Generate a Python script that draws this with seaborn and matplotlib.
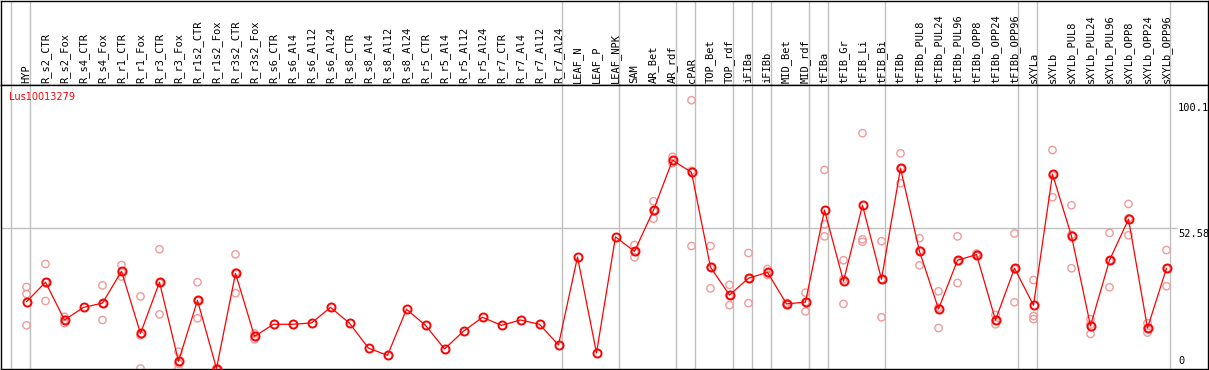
"""
Expression profile of Lus10013279 across tissues / treatments.
"""
import matplotlib
matplotlib.use("Agg")
import matplotlib.pyplot as plt
import numpy as np
import pandas as pd
import seaborn as sns

GENE = "Lus10013279"

samples = [
    "HYP",
    "R_s2_CTR", "R_s2_Fox", "R_s4_CTR", "R_s4_Fox", "R_r1_CTR", "R_r1_Fox",
    "R_r3_CTR", "R_r3_Fox", "R_r1s2_CTR", "R_r1s2_Fox", "R_r3s2_CTR", "R_r3s2_Fox",
    "R_s6_CTR", "R_s6_Al4", "R_s6_Al12", "R_s6_Al24",
    "R_s8_CTR", "R_s8_Al4", "R_s8_Al12", "R_s8_Al24",
    "R_r5_CTR", "R_r5_Al4", "R_r5_Al12", "R_r5_Al24",
    "R_r7_CTR", "R_r7_Al4", "R_r7_Al12", "R_r7_Al24",
    "LEAF_N", "LEAF_P", "LEAF_NPK",
    "SAM", "AR_Bet", "AR_rdf",
    "cPAR",
    "TOP_Bet", "TOP_rdf",
    "iFIBa",
    "iFIBb",
    "MID_Bet", "MID_rdf",
    "tFIBa",
    "tFIB_Gr", "tFIB_Li", "tFIB_Bi",
    "tFIBb", "tFIBb_PUL8", "tFIBb_PUL24", "tFIBb_PUL96",
    "tFIBb_OPP8", "tFIBb_OPP24", "tFIBb_OPP96",
    "sXYLa",
    "sXYLb", "sXYLb_PUL8", "sXYLb_PUL24", "sXYLb_PUL96",
    "sXYLb_OPP8", "sXYLb_OPP24", "sXYLb_OPP96",
]

# number of samples in each separated block
group_sizes = [1, 28, 3, 3, 1, 2, 1, 1, 2, 1, 3, 7, 1, 7]

mean_expr = [
    24.9, 32.2, 18.1, 22.8, 24.4, 36.3, 13.1, 32.2, 2.7, 25.4, 0.0, 35.5, 12.0,
    16.5, 16.5, 17.0, 22.8, 16.9, 7.6, 4.9, 22.1, 16.1, 7.3, 13.9, 19.1,
    16.1, 18.1, 16.5, 8.8,
    41.6, 5.8, 49.1,
    43.7, 59.1, 77.7,
    73.2,
    37.8, 27.4,
    33.7,
    35.9,
    24.1, 24.8,
    59.1,
    32.6, 60.9, 33.3,
    74.7, 43.7, 22.2, 40.4, 42.5, 18.1, 37.4,
    23.6,
    72.5, 49.4, 15.9, 40.4, 55.7, 15.1, 37.4,
]

replicates = [
    [30.4, 27.8, 16.1], [39.0, 32.2, 25.2], [19.3, 18.1, 16.9], [],
    [31.0, 24.1, 18.1], [38.6, 36.0, 34.3], [26.9, 12.4, 0.0],
    [44.5, 31.9, 20.2], [6.3, 1.8, 0.0], [32.2, 25.3, 18.7],
    [0.0, 0.0, 0.0], [42.6, 35.8, 28.1], [13.1, 12.0, 10.9],
    [], [], [], [], [], [], [], [], [], [], [], [], [], [], [], [],
    [], [], [],
    [46.1, 43.5, 41.5], [62.4, 59.0, 55.9], [79.0, 77.5, 76.6],
    [100.1, 73.8, 45.7],
    [45.7, 37.8, 29.9], [31.2, 27.4, 23.6],
    [43.1, 33.6, 24.4],
    [37.1, 35.7, 34.9],
    [24.5, 24.0, 23.8], [28.3, 24.8, 21.3],
    [74.1, 53.8, 49.3],
    [40.4, 33.3, 24.1], [87.8, 48.2, 47.3], [47.5, 33.3, 19.1],
    [80.3, 74.7, 69.1], [48.6, 44.0, 38.5], [28.8, 22.7, 15.1],
    [49.3, 40.0, 31.9], [42.9, 42.6, 42.0], [20.0, 17.8, 16.5],
    [50.4, 37.1, 24.7],
    [33.0, 19.6, 18.4],
    [81.5, 72.1, 63.9], [60.9, 49.9, 37.4], [18.4, 16.4, 12.9],
    [50.6, 40.3, 30.3], [61.4, 56.0, 49.7], [16.9, 15.0, 13.4],
    [44.2, 37.3, 30.7],
]

y_max = 100.1
y_mid = 52.58

RED = "#ff0000"
PINK = "#f09a9a"
GRID = "#c0c0c0"

sns.set_style("white")
plt.rcParams["font.family"] = ["DejaVu Sans"]
plt.rcParams["text.color"] = "black"

W, H = 1209, 370
head_px = 85
fig = plt.figure(figsize=(W / 100, H / 100), dpi=100)
ax_head = fig.add_axes([1 / W, 1 - head_px / H, 1207 / W, (head_px - 1) / H])
ax = fig.add_axes([1 / W, 1 / H, 1207 / W, (H - head_px - 1) / H])

x = np.arange(len(samples))
xlim = ((1 - 26.5) / 19, (1208 - 26.5) / 19)

df_mean = pd.DataFrame({"pos": x, "expr": mean_expr})
rep_pos = [i for i, r in enumerate(replicates) for _ in r]
rep_val = [v for r in replicates for v in r]
df_rep = pd.DataFrame({"pos": rep_pos, "expr": rep_val})

# group separators (light grey verticals through header and plot)
ends = np.cumsum([0] + group_sizes) - 1
for a in (ax_head, ax):
    for e in ends:
        a.axvline(e + 0.2, color=GRID, linewidth=1, zorder=0)
    a.set_xlim(*xlim)
    a.set_xticks([])
    a.set_yticks([])
    for s in a.spines.values():
        s.set_color("black")
        s.set_linewidth(1)

ax.hlines(y_mid, xlim[0], 60.55, color=GRID, linewidth=1, zorder=0)

sns.scatterplot(
    data=df_rep, x="pos", y="expr", ax=ax, s=28, marker="o",
    facecolor="none", edgecolor=PINK, linewidth=1.0, zorder=2,
)
sns.lineplot(
    data=df_mean, x="pos", y="expr", ax=ax, sort=False, color=RED,
    linewidth=0.9, marker="o", markersize=5.8, markerfacecolor="none",
    markeredgecolor=RED, markeredgewidth=1.4, zorder=3,
)

ax.set_xlim(*xlim)
ax.set_ylim((368.5 - 369) / 2.68, (368.5 - 85) / 2.68)
ax.set_xlabel("")
ax.set_ylabel("")

# right-hand value labels
lab_x = 60.6
mono = "DejaVu Sans Mono"
ax.annotate(f"{y_max}", (lab_x, y_max), xytext=(0, -2), textcoords="offset points",
            va="top", ha="left", fontsize=7.5, family=mono, color="black")
ax.annotate(f"{y_mid}", (lab_x, y_mid), xytext=(0, -0.8), textcoords="offset points",
            va="top", ha="left", fontsize=7.5, family=mono, color="black")
ax.annotate("0", (lab_x, 0), xytext=(0, 1.8), textcoords="offset points",
            va="bottom", ha="left", fontsize=7.5, family=mono, color="black")

# rotated sample names in the header
trans = ax_head.get_xaxis_transform()
for i, name in enumerate(samples):
    ax_head.text(i, 0.025, name, rotation=90, ha="center", va="bottom",
                 fontsize=7.5, family=mono, color="black", transform=trans)

fig.text(9 / W, 1 - 92 / H, GENE, color=RED, fontsize=7, va="top", ha="left")

fig.savefig("out.png", dpi=100)
